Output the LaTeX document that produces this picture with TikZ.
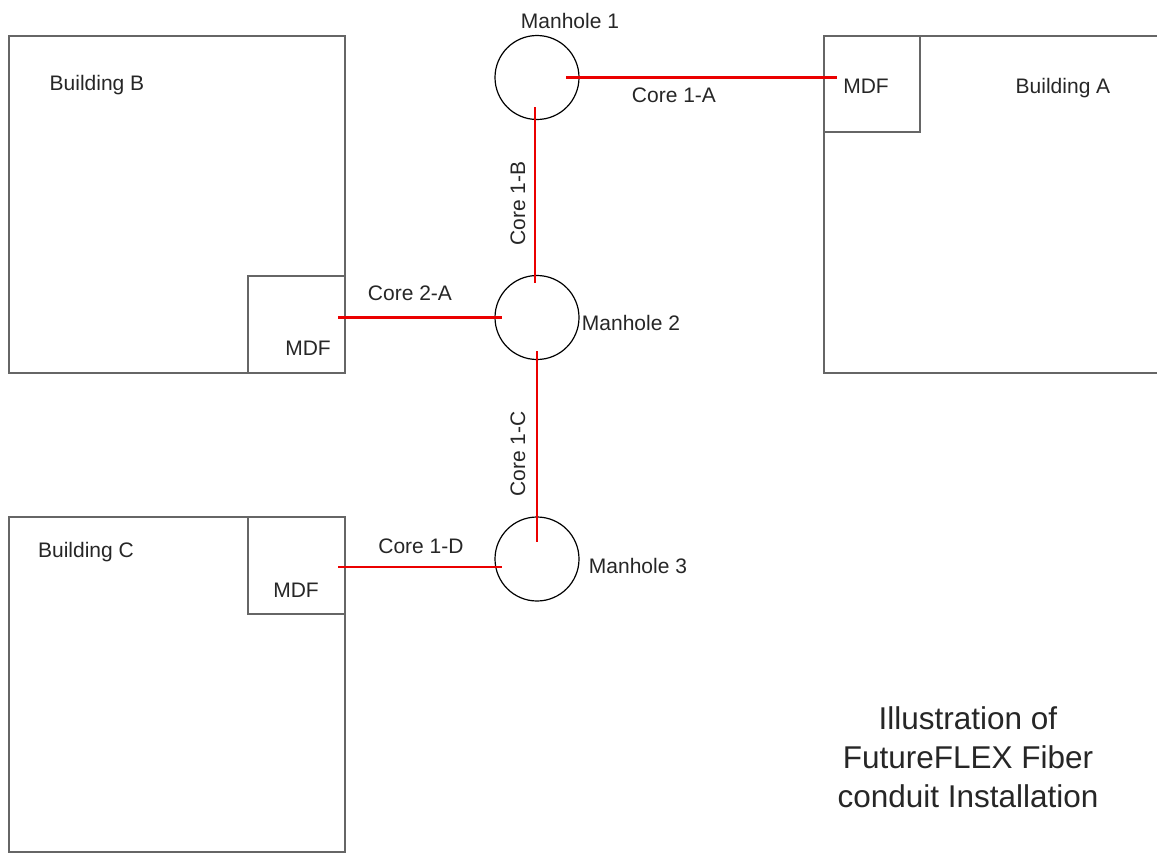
\documentclass[tikz,border=0pt]{standalone}
\usepackage{fontspec}
\setmainfont{Liberation Sans}
\begin{document}
\begin{tikzpicture}[x=1pt,y=-1pt,
  bldg/.style={draw=black!60,line width=2.4pt},
  manhole/.style={draw=black,line width=1.2pt,circle,minimum size=84pt,inner sep=0pt},
  core/.style={draw=red!92!black,line width=2.4pt},
  lbl/.style={inner sep=0pt,anchor=base,font=\fontsize{21}{25}\selectfont,text=black!85},
  title/.style={inner sep=0pt,align=center,font=\fontsize{31.5}{39}\selectfont,text=black!85}]
\useasboundingbox (0,0) rectangle (1157,854);
% buildings
\draw[bldg] (9,36) rectangle (345,373);
\draw[bldg] (824,36) rectangle (1170,373);
\draw[bldg] (9,517) rectangle (345,852);
% MDF boxes
\node[bldg,minimum width=97pt,minimum height=97pt,inner sep=0pt] (mdfB) at (296.5,324.5) {};
\node[bldg,minimum width=96pt,minimum height=96pt,inner sep=0pt] (mdfA) at (872,84) {};
\node[bldg,minimum width=97pt,minimum height=97pt,inner sep=0pt] (mdfC) at (296.5,565.5) {};
% manholes
\node[manhole] (m1) at (537,77.5) {};
\node[manhole] (m2) at (537,317.5) {};
\node[manhole] (m3) at (537,559) {};
% cores
\draw[core] ([shift={(29,0)}]m1.center) -- ([shift={(14,0)}]mdfA.west |- m1.center);
\draw[core] ([shift={(-2,29.5)}]m1.center) -- ([shift={(-2,-34.5)}]m2.center);
\draw[core] ([shift={(-8,0)}]mdfB.east |- m2.center) -- ([shift={(-35,0)}]m2.center);
\draw[core] ([shift={(0,33.5)}]m2.center) -- ([shift={(0,-17)}]m3.center);
\draw[core] ([shift={(-8,8)}]mdfC.east |- m3.center) -- ([shift={(-35,8)}]m3.center);
% labels
\node[lbl] (lBB) at (97,90) {Building B};
\node[lbl] (lBA) at (1063,93) {Building A};
\node[lbl] (lBC) at (86,557) {Building C};
\node[lbl] (lMA) at (866,93) {MDF};
\node[lbl] (lMB) at (308,355) {MDF};
\node[lbl] (lMC) at (296,597) {MDF};
\node[lbl] (lM1) at (570,28) {Manhole 1};
\node[lbl] (lM2) at (631,330) {Manhole 2};
\node[lbl] (lM3) at (638,573) {Manhole 3};
\node[lbl] (l1A) at (674,102) {Core 1-A};
\node[lbl,rotate=90] (l1B) at (525,203.5) {Core 1-B};
\node[lbl] (l2A) at (410,300) {Core 2-A};
\node[lbl,rotate=90] (l1C) at (525,454) {Core 1-C};
\node[lbl] (l1D) at (421,553) {Core 1-D};
\node[title,anchor=center] (ttl) at (968,757) {Illustration of\\FutureFLEX Fiber\\conduit Installation};
\end{tikzpicture}
\end{document}
